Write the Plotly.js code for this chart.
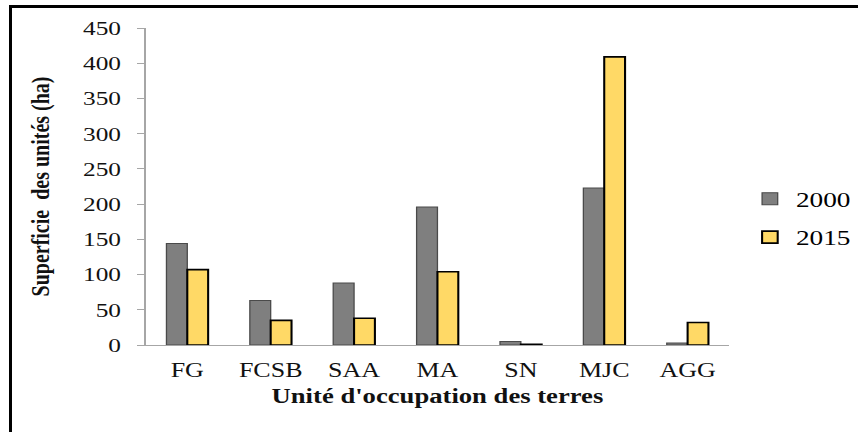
<!DOCTYPE html>
<html>
<head>
<meta charset="utf-8">
<script src="https://cdn.plot.ly/plotly-3.0.1.min.js"></script>
<style>
  html, body { margin: 0; padding: 0; background: #fff; overflow: hidden; }
  #wrap { position: absolute; left: 0; top: 0; width: 858px; height: 432px; overflow: hidden; }
  #chart { position: absolute; left: 0; top: 0; width: 660px; height: 432px;
           transform: scaleX(1.3); transform-origin: 0 0; }
  #frame { position: absolute; left: 9px; top: 5px; width: 900px; height: 500px;
           border-top: 3px solid #000; border-left: 3px solid #000; pointer-events: none; }
</style>
</head>
<body>
<div id="wrap">
  <div id="chart"></div>
  <div id="frame"></div>
</div>
<script>
const categories = ["FG", "FCSB", "SAA", "MA", "SN", "MJC", "AGG"];
const values2000 = [144, 63, 88, 196, 5, 223, 3];
const values2015 = [107, 35, 38, 104, 1, 409, 32];
const yTicks = [0, 50, 100, 150, 200, 250, 300, 350, 400, 450];
const seriesNames = ["2000", "2015"];
const xTitle = "Unité d'occupation des terres";
const yTitle = "Superficie  des unités (ha)";

const serif = '"Liberation Serif", "Times New Roman", serif';

const traces = [
  {
    type: "bar", name: seriesNames[0], x: categories, y: values2000,
    legendgroup: "a",
    marker: { color: "#7f7f7f", line: { color: "#4a4a4a", width: 1 } }
  },
  {
    type: "bar", name: seriesNames[1], x: categories, y: values2015,
    legendgroup: "b",
    marker: { color: "#ffd966", line: { color: "#000000", width: 1.6 } }
  }
];

const layout = {
  width: 660, height: 432,
  font: { family: serif, color: "#111" },
  margin: { l: 111.5, r: 98.5, t: 28, b: 87, pad: 0, autoexpand: false },
  paper_bgcolor: "#ffffff", plot_bgcolor: "#ffffff",
  barmode: "group", bargap: 0.5, bargroupgap: 0,
  showlegend: true,
  legend: {
    x: 1.025, y: 0.4, xanchor: "left", yanchor: "middle",
    font: { family: serif, size: 21, color: "#000" },
    traceorder: "grouped", tracegroupgap: 8, itemwidth: 30
  },
  xaxis: {
    type: "category", automargin: false,
    showline: true, linecolor: "#a6a6a6", linewidth: 1,
    ticks: "", showgrid: false, zeroline: false,
    tickfont: { family: serif, size: 20, color: "#111" },
    ticklabelstandoff: 7,
    title: { text: "<b>" + xTitle + "</b>", font: { family: serif, size: 20.5, color: "#111" }, standoff: 8 }
  },
  yaxis: {
    range: [0, 450], tickvals: yTicks, ticktext: yTicks.map(String), automargin: false,
    showline: true, linecolor: "#a6a6a6", linewidth: 1,
    ticks: "outside", ticklen: 6, tickcolor: "#a6a6a6", tickwidth: 1,
    showgrid: false, zeroline: false,
    tickfont: { family: serif, size: 19.5, color: "#111" },
    ticklabelstandoff: 8,
    title: { text: "<b>" + yTitle + "</b>", font: { family: serif, size: 20, color: "#111" }, standoff: 20 }
  }
};

Plotly.newPlot("chart", traces, layout, { displayModeBar: false, staticPlot: true });
</script>
</body>
</html>
